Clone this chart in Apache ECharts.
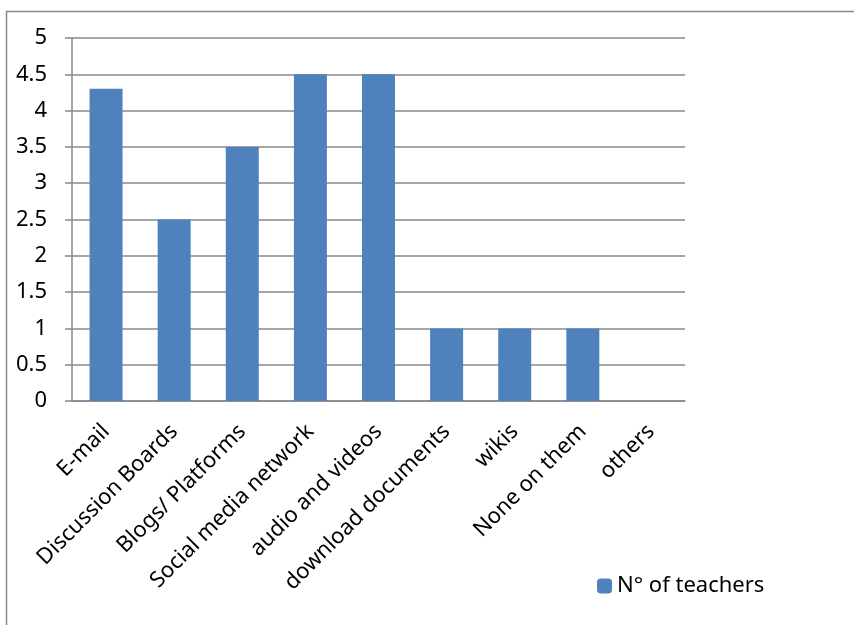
<!DOCTYPE html>
<html>
<head>
<meta charset="utf-8">
<title>N° of teachers</title>
<script src="https://cdn.jsdelivr.net/npm/echarts@6/dist/echarts.min.js"></script>
<style>
    html, body { margin: 0; padding: 0; background: #fff; }
    #chart { width: 854px; height: 625px; }
</style>
</head>
<body>
<div id="chart"></div>
<script type="text/javascript">
    var categories = ['E-mail', 'Discussion Boards', 'Blogs/ Platforms', 'Social media network',
        'audio and videos', 'download documents', 'wikis', 'None on them', 'others'];
    var teachers = [4.3, 2.5, 3.5, 4.5, 4.5, 1, 1, 1, 0];
    var seriesName = 'N° of teachers';

    var font = 'Noto Sans';
    var grey = '#888888';
    var myChart = echarts.init(document.getElementById('chart'));
    var option = {
        animation: false,
        graphic: [{
            type: 'rect',
            shape: { x: 6.5, y: 11.5, width: 900, height: 700 },
            style: { fill: 'none', stroke: grey, lineWidth: 1.5 }
        }],
        legend: {
            data: [seriesName],
            left: 592,
            top: 570,
            itemWidth: 15,
            itemHeight: 15,
            itemGap: 6,
            textStyle: { fontFamily: font, fontSize: 22, color: '#000' }
        },
        grid: { left: 72, right: 169, top: 38, bottom: 224 },
        xAxis: {
            type: 'category',
            data: categories,
            axisLine: { lineStyle: { color: grey, width: 1.5 } },
            axisTick: { length: 7, lineStyle: { color: grey, width: 1.5 } },
            axisLabel: {
                interval: 0, //全部显示
                rotate: 45,
                margin: 27,
                fontFamily: font,
                fontSize: 22,
                color: '#000'
            }
        },
        yAxis: {
            type: 'value',
            min: 0,
            max: 5,
            interval: 0.5,
            axisLine: { show: true, lineStyle: { color: grey, width: 1.5 } },
            axisTick: { show: true, length: 7, lineStyle: { color: grey, width: 1.5 } },
            splitLine: { lineStyle: { color: grey, width: 1.5 } },
            axisLabel: { margin: 25, fontFamily: font, fontSize: 22, color: '#000' }
        },
        series: [{
            name: seriesName,
            type: 'bar',
            data: teachers,
            barWidth: 33,
            itemStyle: { color: '#4F81BD' }
        }]
    };
    myChart.setOption(option);
</script>
</body>
</html>
